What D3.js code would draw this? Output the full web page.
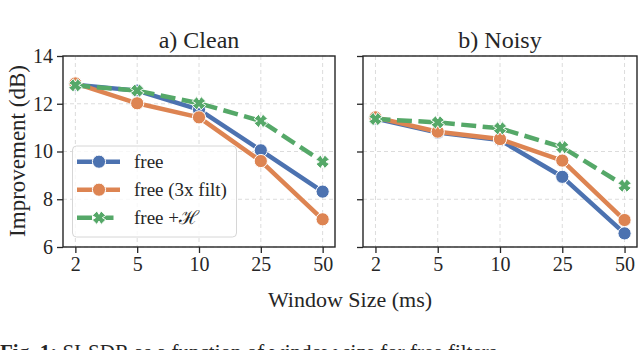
<!DOCTYPE html>
<html><head><meta charset="utf-8">
<script src="https://cdn.jsdelivr.net/npm/d3@7"></script>
<style>body{margin:0;background:#fff}svg{display:block}text{font-family:"Liberation Serif",serif;fill:#262626}</style>
</head><body><div id="c"></div>
<script>
const windows = ["2","5","10","25","50"];
const panels = ["a) Clean","b) Noisy"];
const seriesNames = ["free","free (3x filt)","free +\u210B"];
const cleanFree = [12.8,12.55,11.75,10.05,8.32];
const cleanFilt = [12.85,12.02,11.43,9.6,7.16];
const cleanH = [12.77,12.55,12.02,11.28,9.57];
const noisyFree = [11.38,10.79,10.48,8.94,6.57];
const noisyFilt = [11.43,10.83,10.52,9.62,7.13];
const noisyH = [11.36,11.22,10.97,10.18,8.57];
const yTicks = [6,8,10,12,14];
const colors = ["#4c72b0","#dd8452","#55a868"];

const data = [[cleanFree,cleanFilt,cleanH],[noisyFree,noisyFilt,noisyH]];
const W=640,H=350;
const svg=d3.select("#c").append("svg").attr("width",W).attr("height",H);
const frames=[{x0:63,x1:335},{x0:363,x1:637}];
const y0=56,y1=247;
const y=d3.scaleLinear().domain([6,14]).range([y1,y0]);
const xPath="M-1,-3.2L0,-1.6L1,-3.2L3.2,-1L1.6,0L3.2,1L1,3.2L0,1.6L-1,3.2L-3.2,1L-1.6,0L-3.2,-1Z";
function drawMarker(g,type,cx,cy,col){
  if(type===2){
    g.append("path").attr("d",xPath).attr("transform",`translate(${cx},${cy}) scale(2.1)`)
     .attr("fill",col).attr("stroke","#fff").attr("stroke-width",0.45);
  } else {
    g.append("circle").attr("cx",cx).attr("cy",cy).attr("r",6.6).attr("fill",col).attr("stroke","#fff").attr("stroke-width",1);
  }
}
frames.forEach((f,pi)=>{
  const x=d3.scalePoint().domain(windows).range([f.x0,f.x1]).padding(0.2);
  const g=svg.append("g");
  g.selectAll(".gy").data(yTicks).join("line").attr("x1",f.x0).attr("x2",f.x1)
    .attr("y1",d=>y(d)).attr("y2",d=>y(d)).attr("stroke","#dcdcdc").attr("stroke-width",1).attr("stroke-dasharray","4,3");
  g.selectAll(".gx").data(windows).join("line").attr("x1",d=>x(d)).attr("x2",d=>x(d))
    .attr("y1",y0).attr("y2",y1).attr("stroke","#dcdcdc").attr("stroke-width",1).attr("stroke-dasharray","4,3");
  const ax=g.append("g").attr("transform",`translate(0,${y1})`).call(d3.axisBottom(x).tickSize(6).tickSizeOuter(0).tickPadding(4));
  ax.select(".domain").remove();
  ax.selectAll("line").attr("stroke","#262626").attr("stroke-width",1.3);
  ax.selectAll("text").attr("font-size",20).attr("font-family","Liberation Serif").attr("fill","#262626");
  const ay=g.append("g").attr("transform",`translate(${f.x0},0)`).call(d3.axisLeft(y).tickValues(yTicks).tickSize(6).tickPadding(4).tickFormat(pi===0?d3.format("d"):()=>""));
  ay.select(".domain").remove();
  ay.selectAll("line").attr("stroke","#262626").attr("stroke-width",1.3);
  ay.selectAll("text").attr("font-size",20).attr("font-family","Liberation Serif").attr("fill","#262626");
  data[pi].forEach((vals,si)=>{
    const line=d3.line().x((d,i)=>x(windows[i])).y(d=>y(d));
    g.append("path").datum(vals).attr("d",line).attr("fill","none").attr("stroke",colors[si])
      .attr("stroke-width",4.5).attr("stroke-linejoin","round")
      .attr("stroke-dasharray",si===2?"15,6.5":null);
    const mg=g.append("g");
    vals.forEach((v,i)=>drawMarker(mg,si,x(windows[i]),y(v),colors[si]));
  });
  g.append("rect").attr("x",f.x0).attr("y",y0).attr("width",f.x1-f.x0).attr("height",y1-y0)
    .attr("fill","none").attr("stroke","#262626").attr("stroke-width",1.4);
  svg.append("text").attr("x",(f.x0+f.x1)/2).attr("y",48).attr("text-anchor","middle").attr("font-size",24).text(panels[pi]);
});
const lg=svg.append("g");
lg.append("rect").attr("x",72.5).attr("y",146).attr("width",164).attr("height",91).attr("rx",4)
  .attr("fill","#fff").attr("fill-opacity",0.8).attr("stroke","#d6d6d6").attr("stroke-width",1);
seriesNames.forEach((n,i)=>{
  const cy=161.7+i*28;
  lg.append("line").attr("x1",77).attr("x2",120).attr("y1",cy).attr("y2",cy).attr("stroke",colors[i])
    .attr("stroke-width",4.5).attr("stroke-dasharray",i===2?"15,6.5":null);
  drawMarker(lg,i,99,cy,colors[i]);
  lg.append("text").attr("x",134).attr("y",cy+6.5).attr("font-size",19).text(n);
});
svg.append("text").attr("x",350).attr("y",307).attr("text-anchor","middle").attr("font-size",22).text("Window Size (ms)");
svg.append("text").attr("transform","translate(25,151) rotate(-90)").attr("text-anchor","middle").attr("font-size",23).text("Improvement (dB)");
const cap=svg.append("text").attr("x",0).attr("y",359).attr("font-size",21);
cap.append("tspan").attr("font-weight","bold").text("Fig. 1:");
cap.append("tspan").text(" SI-SDR as a function of window size for free filters");
</script></body></html>
